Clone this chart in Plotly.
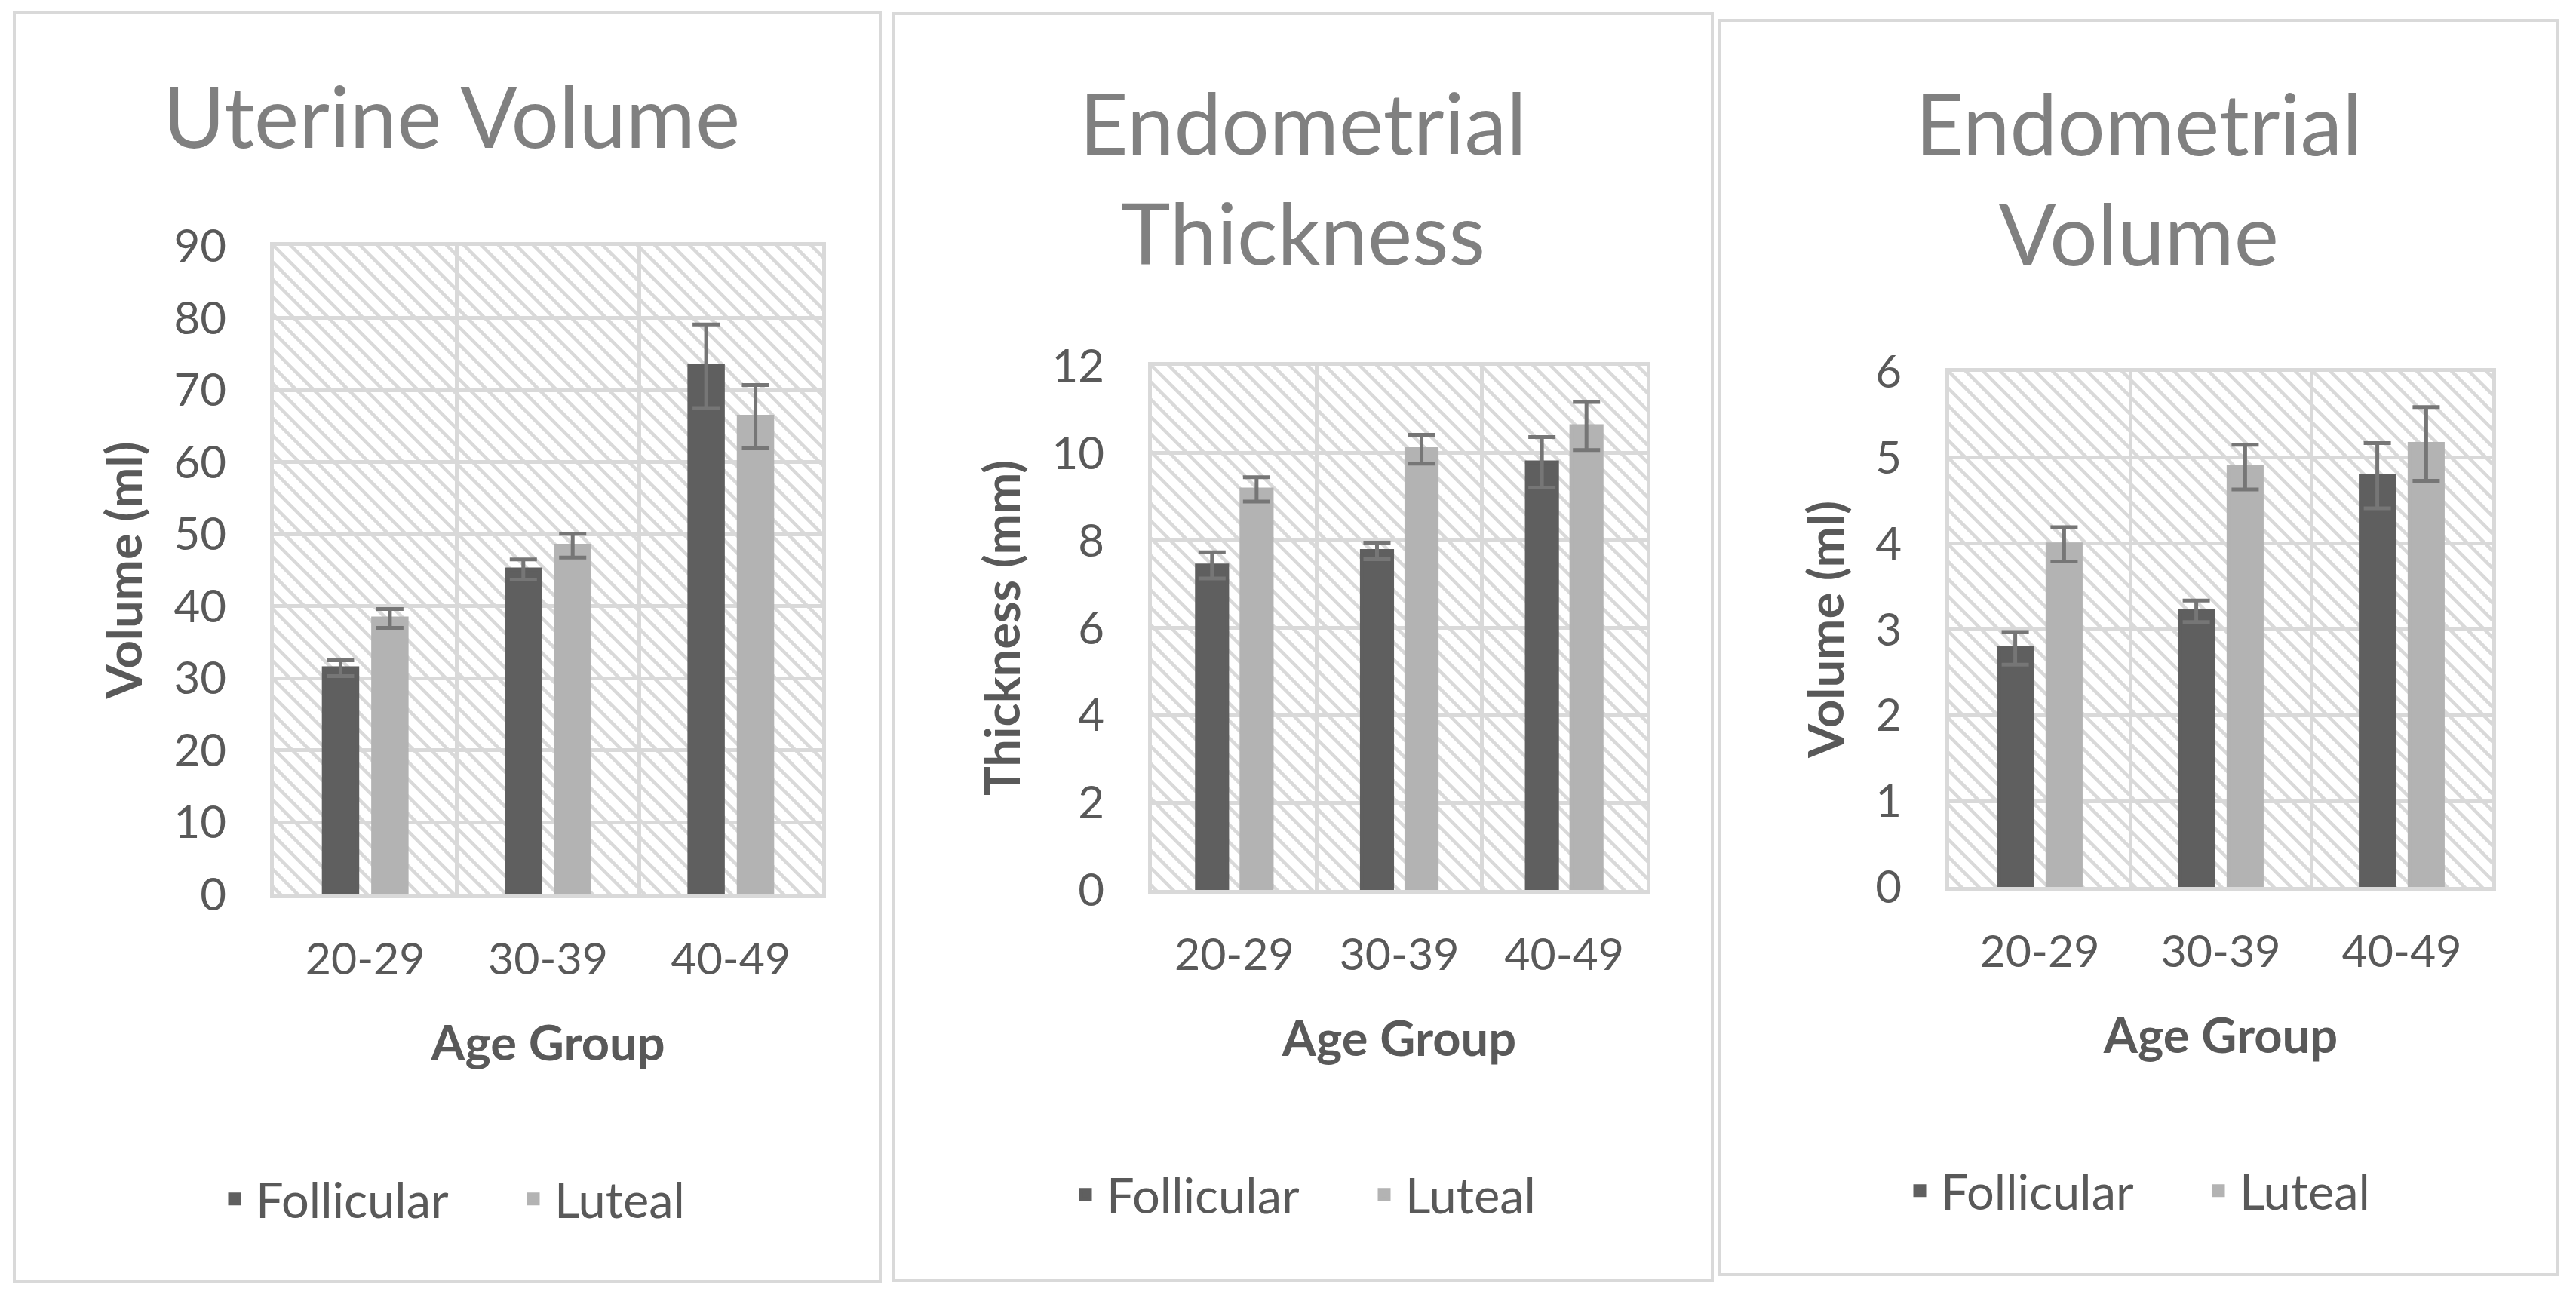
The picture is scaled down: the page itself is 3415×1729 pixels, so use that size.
import base64
import plotly.graph_objects as go

# ---------------- data ----------------
age_groups = ["20-29", "30-39", "40-49"]
series_names = ["Follicular", "Luteal"]

uterine_follicular = [31.4, 45.1, 73.3]
uterine_follicular_err = [1.1, 1.4, 5.8]
uterine_luteal = [38.3, 48.4, 66.3]
uterine_luteal_err = [1.3, 1.65, 4.4]

thickness_follicular = [7.43, 7.76, 9.79]
thickness_follicular_err = [0.3, 0.19, 0.58]
thickness_luteal = [9.17, 10.09, 10.62]
thickness_luteal_err = [0.28, 0.33, 0.55]

endo_vol_follicular = [2.78, 3.21, 4.79]
endo_vol_follicular_err = [0.19, 0.125, 0.38]
endo_vol_luteal = [3.99, 4.89, 5.16]
endo_vol_luteal_err = [0.2, 0.26, 0.43]

chart_titles = ["Uterine Volume", "Endometrial<br>Thickness", "Endometrial<br>Volume"]
y_titles = ["Volume (ml)", "Thickness (mm)", "Volume (ml)"]
x_title = "Age Group"
y_ranges = [[0, 90], [0, 12], [0, 6]]
y_dticks = [10, 2, 1]

# ---------------- styling ----------------
W, H = 3415, 1729
FOLL = "#5f5f5f"
LUT = "#b3b3b3"
ERR = "#767676"
GRID = "#d9d9d9"
TXT = "#595959"
TITLE = "#808080"
FONT = "Lato"

# plot areas in pixels: (x0, x1, y0, y1)
plot_px = [(363, 1090, 326, 1186), (1527, 2183, 485, 1180), (2584, 3304, 493, 1176)]
box_px = [(19, 1167, 17, 1699), (1184, 2270, 18, 1698), (2279, 3391, 27, 1690)]
title_px = [(598, 152), (1727, 234), (2835, 235)]
legend_px = [(679, 1590), (1807, 1584), (2913, 1579)]

panels = [
    (uterine_follicular, uterine_follicular_err, uterine_luteal, uterine_luteal_err),
    (thickness_follicular, thickness_follicular_err, thickness_luteal, thickness_luteal_err),
    (endo_vol_follicular, endo_vol_follicular_err, endo_vol_luteal, endo_vol_luteal_err),
]


def hatch_uri(w, h):
    p = 23
    sw = 4.6
    svg = (
        f'<svg xmlns="http://www.w3.org/2000/svg" width="{w}" height="{h}" '
        f'viewBox="0 0 {w} {h}" preserveAspectRatio="none">'
        f'<defs><pattern id="hp" width="{p}" height="{p}" patternUnits="userSpaceOnUse">'
        f'<path d="M-2,-2 L{p+2},{p+2} M{p-3},-3 L{p+3},3 M-3,{p-3} L3,{p+3}" '
        f'stroke="{GRID}" stroke-width="{sw}" fill="none"/></pattern></defs>'
        f'<rect width="{w}" height="{h}" fill="white"/>'
        f'<rect width="{w}" height="{h}" fill="url(#hp)"/></svg>'
    )
    return "data:image/svg+xml;base64," + base64.b64encode(svg.encode()).decode()


fig = go.Figure()
layout = {}
images = []
shapes = []
annotations = []

for i, (f, fe, l, le) in enumerate(panels):
    n = i + 1
    xa = "x" if n == 1 else f"x{n}"
    ya = "y" if n == 1 else f"y{n}"
    lg = "legend" if n == 1 else f"legend{n}"
    fig.add_trace(go.Bar(
        x=age_groups, y=f, name=series_names[0],
        marker=dict(color=FOLL, line=dict(color=FOLL, width=5)),
        error_y=dict(type="data", array=fe, color=ERR, thickness=5, width=18),
        xaxis=xa, yaxis=ya, legend=lg,
    ))
    fig.add_trace(go.Bar(
        x=age_groups, y=l, name=series_names[1],
        marker=dict(color=LUT, line=dict(color=LUT, width=5)),
        error_y=dict(type="data", array=le, color=ERR, thickness=5, width=18),
        xaxis=xa, yaxis=ya, legend=lg,
    ))

    x0, x1, y0, y1 = plot_px[i]
    xdom = [x0 / W, x1 / W]
    ydom = [1 - y1 / H, 1 - y0 / H]
    xkey = "xaxis" if n == 1 else f"xaxis{n}"
    ykey = "yaxis" if n == 1 else f"yaxis{n}"
    layout[xkey] = dict(
        domain=xdom, anchor=ya, type="category", tickson="boundaries",
        showgrid=True, gridcolor=GRID, gridwidth=5,
        showline=True, linecolor=GRID, linewidth=5, mirror=True,
        ticks="", ticklabelstandoff=30,
        tickfont=dict(family=FONT, size=59, color=TXT),
        title=dict(text=x_title, font=dict(family=FONT, size=65, color=TXT, weight="bold"), standoff=58),
        automargin=False,
    )
    layout[ykey] = dict(
        domain=ydom, anchor=xa, range=y_ranges[i], dtick=y_dticks[i],
        showgrid=True, gridcolor=GRID, gridwidth=5, zeroline=False,
        showline=True, linecolor=GRID, linewidth=5, mirror=True,
        ticks="outside", ticklen=46, tickcolor="rgba(0,0,0,0)",
        tickfont=dict(family=FONT, size=60, color=TXT),
        title=dict(text=y_titles[i], font=dict(family=FONT, size=65, color=TXT, weight="bold"), standoff=22),
        automargin=False,
    )
    images.append(dict(
        source=hatch_uri(x1 - x0, y1 - y0), xref=f"{xa} domain", yref=f"{ya} domain",
        x=0, y=1, sizex=1, sizey=1, xanchor="left", yanchor="top",
        sizing="stretch", layer="below",
    ))
    bx0, bx1, by0, by1 = box_px[i]
    shapes.append(dict(
        type="rect", xref="paper", yref="paper",
        x0=bx0 / W, x1=bx1 / W, y0=1 - by1 / H, y1=1 - by0 / H,
        line=dict(color=GRID, width=4), fillcolor="rgba(0,0,0,0)", layer="below",
    ))
    tx, ty = title_px[i]
    annotations.append(dict(
        text=chart_titles[i], xref="paper", yref="paper", x=tx / W, y=1 - ty / H,
        xanchor="center", yanchor="middle", showarrow=False,
        font=dict(family=FONT, size=112, color=TITLE),
    ))
    lx, ly = legend_px[i]
    layout[lg] = dict(
        orientation="h", x=lx / W, y=1 - ly / H, xanchor="center", yanchor="middle",
        font=dict(family=FONT, size=65, color=TXT), bgcolor="rgba(0,0,0,0)",
        entrywidth=335, itemwidth=46, traceorder="normal",
    )

fig.update_layout(
    **layout,
    images=images, shapes=shapes, annotations=annotations,
    barmode="group", bargap=0.46, bargroupgap=0.32,
    width=W, height=H, margin=dict(l=0, r=0, t=0, b=0),
    paper_bgcolor="white", plot_bgcolor="rgba(0,0,0,0)",
    font=dict(family=FONT, color=TXT),
    showlegend=True,
)

fig.write_html(
    "out.html",
    config={"displayModeBar": False},
    post_script="document.body.style.margin='0';document.body.style.overflow='hidden';",
)
